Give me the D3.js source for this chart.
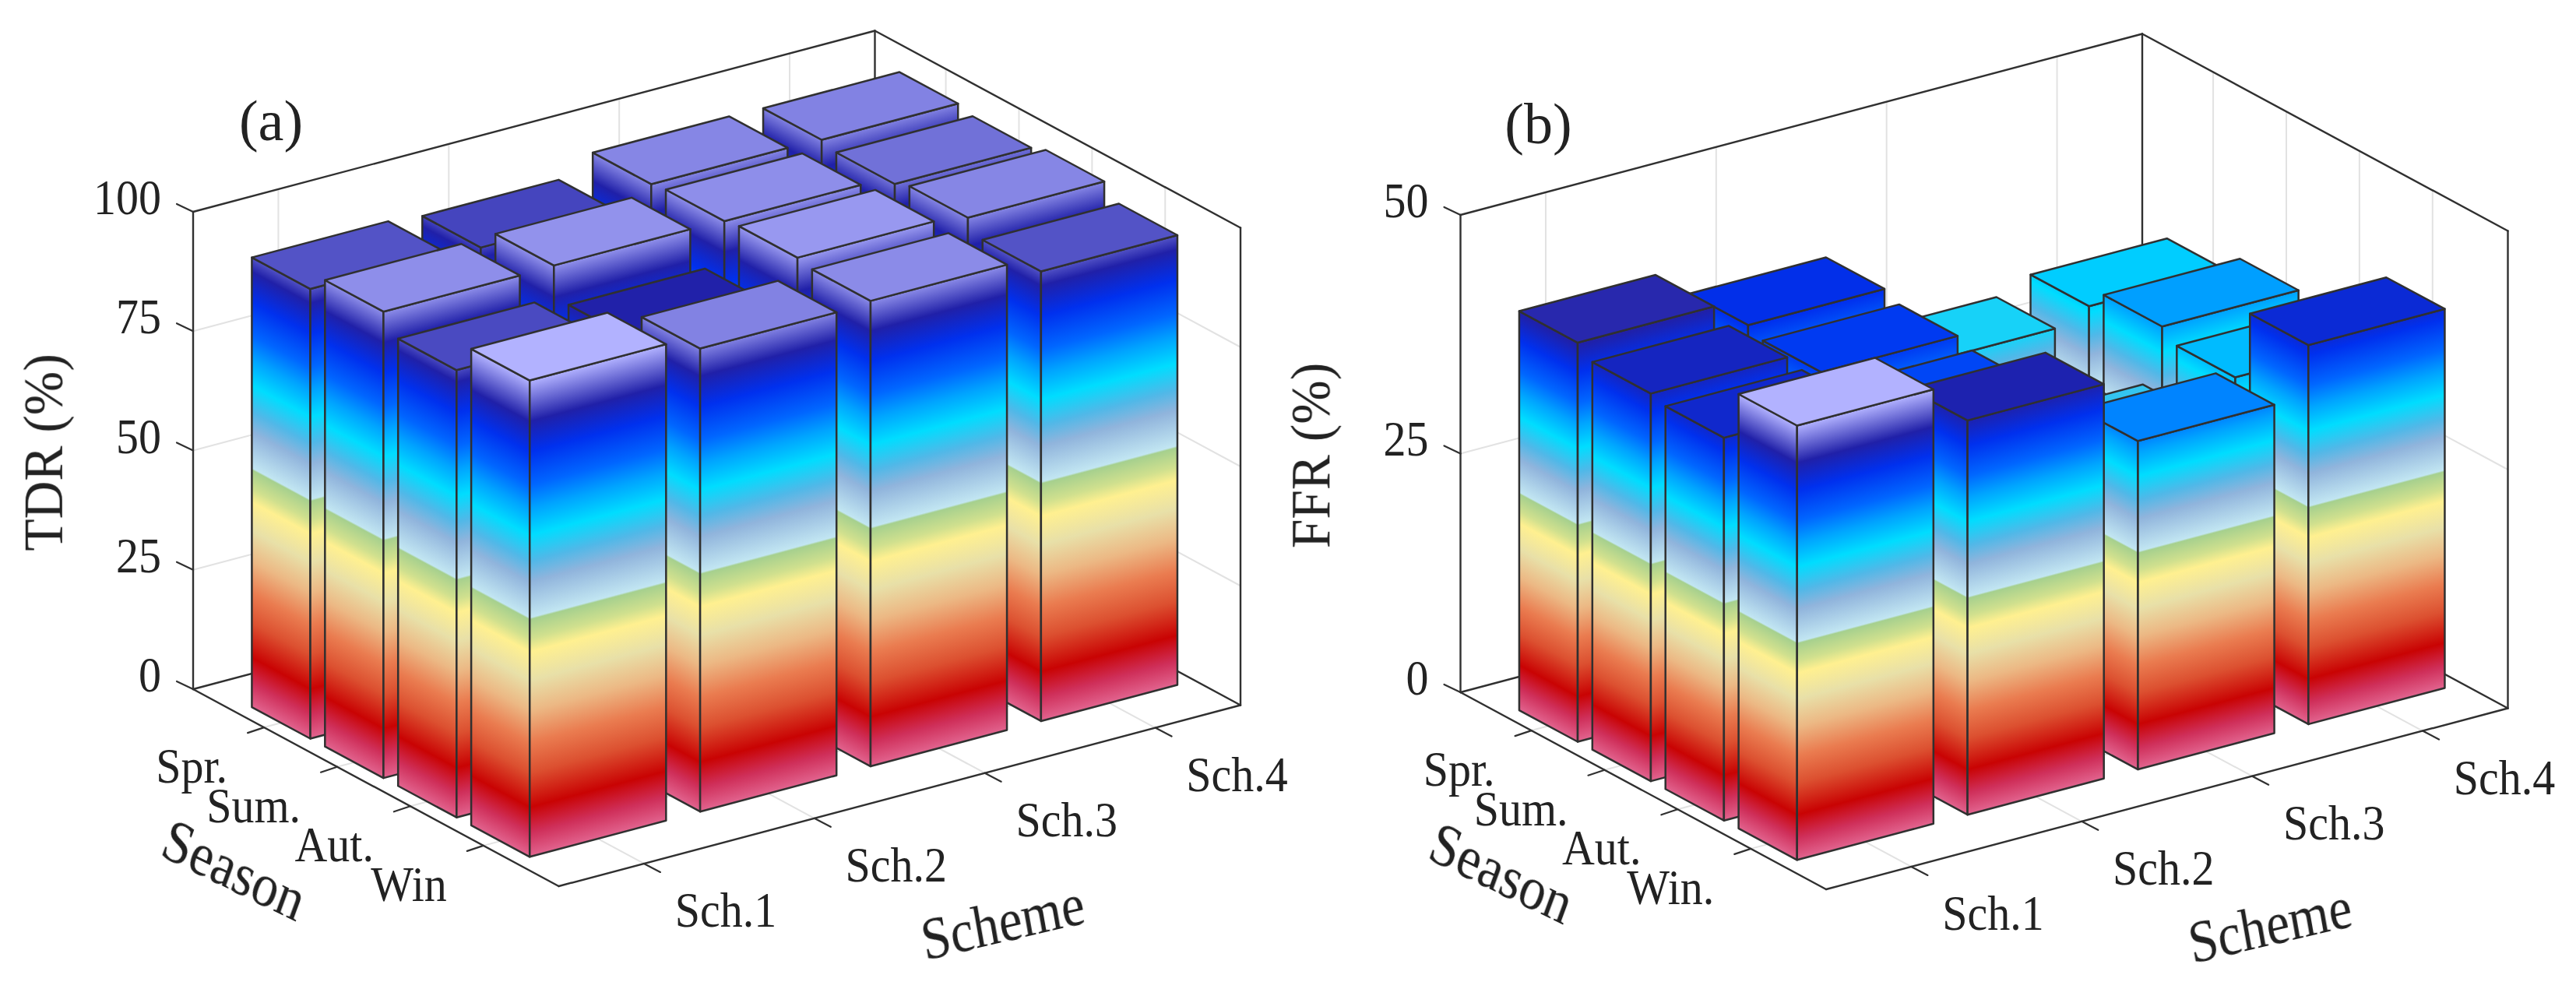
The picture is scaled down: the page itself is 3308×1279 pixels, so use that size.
<!DOCTYPE html>
<html><head><meta charset="utf-8">
<script src="https://cdn.jsdelivr.net/npm/d3@7/dist/d3.min.js"></script>
<style>html,body{margin:0;padding:0;background:#fff}svg{display:block}text{font-family:"Liberation Serif",serif;fill:#222}</style>
</head><body><svg id="c" width="3308" height="1279" xmlns="http://www.w3.org/2000/svg"></svg>
<script>
const seasonsA = ["Spr.", "Sum.", "Aut.", "Win"];
const seasonsB = ["Spr.", "Sum.", "Aut.", "Win."];
const schemes = ["Sch.1", "Sch.2", "Sch.3", "Sch.4"];
const tdrValues = [
  [94.2, 93.4, 97.2, 97.0],
  [97.7, 97.9, 97.7, 96.0],
  [93.7, 91.3, 98.3, 97.2],
  [99.8, 97.0, 97.5, 94.2]
];
const ffrValues = [
  [41.8, 38.9, 30.0, 31.4],
  [40.6, 38.1, 26.0, 33.4],
  [40.1, 37.4, 29.1, 32.2],
  [45.5, 41.3, 34.4, 39.7]
];
const tdrTicks = [0, 25, 50, 75, 100];
const ffrTicks = [0, 25, 50];
const cmapStops = [0, 5, 10.4, 17.6, 24, 30.6, 37, 43, 45.8, 49.8, 50.2, 57.7, 62, 67.5, 73, 78, 85, 91.4, 100];
const cmapColors = ["#e2648f", "#cf2f5a", "#c90303", "#dc5030", "#ea7c50", "#ecb884", "#e8e0a8", "#fff090", "#d0e08e", "#a6d08e",
  "#c2e6f2", "#90b4dc", "#50b8e8", "#00ddff", "#00a4ff", "#0066ff", "#0030ee", "#2020a8", "#b2b2ff"];

const svg = d3.select("#c");
const defs = svg.append("defs");
const blur = defs.append("filter").attr("id", "soft").attr("filterUnits", "userSpaceOnUse")
  .attr("x", 0).attr("y", 0).attr("width", 3308).attr("height", 1279).attr("color-interpolation-filters", "sRGB");
blur.append("feGaussianBlur").attr("stdDeviation", 0.6);
const master = defs.append("linearGradient").attr("id", "cmap");
cmapStops.forEach((s, k) => master.append("stop").attr("offset", s + "%").attr("stop-color", cmapColors[k]));
const cmap = d3.scaleLinear().domain(cmapStops).range(cmapColors).interpolate(d3.interpolateRgb);
let gid = 0;

function panel(o) {
  const g = svg.append("g").attr("filter", "url(#soft)");
  const zTop = o.ticks[o.ticks.length - 1];
  const zMax = d3.max(o.values.flat());
  const sLo = 0.03, sHi = 5.03, cLo = 0.5, cHi = 4.5;
  const sScale = d3.scaleLinear().domain([sLo, sHi]).range([0, 1]);
  const cScale = d3.scaleLinear().domain([cLo, cHi]).range([0, 1]);
  const zScale = d3.scaleLinear().domain([0, zTop]).range([0, 613]);
  const LS = [469.5, 253], LC = [875.5, -232.5];
  const P = (s, c, z) => {
    const a = sScale(s), b = cScale(c);
    return [o.x + a * LS[0] + b * LC[0], o.y + a * LS[1] + b * LC[1] - zScale(z)];
  };
  const line = (a, b, col, w) => g.append("line").attr("x1", a[0]).attr("y1", a[1]).attr("x2", b[0]).attr("y2", b[1])
    .attr("stroke", col).attr("stroke-width", w).attr("stroke-linecap", "round");
  const grid = "#e2e2e2", ink = "#303030";
  const T = (txt, x, y, size, rot, sx, sy, anchor) => g.append("text").attr("text-anchor", anchor || "middle").attr("font-size", size)
    .attr("transform", `translate(${x},${y}) scale(${sx},${sy}) rotate(${rot})`).text(txt);
  // grid
  d3.range(1, 5).forEach(j => {
    line(P(sLo, j, 0), P(sLo, j, zTop), grid, 2);
    line(P(sLo, j, 0), P(sHi, j, 0), grid, 2);
  });
  d3.range(1, 5).forEach(i => {
    line(P(i, cHi, 0), P(i, cHi, zTop), grid, 2);
    line(P(i, cLo, 0), P(i, cHi, 0), grid, 2);
  });
  o.ticks.slice(1, -1).forEach(t => {
    line(P(sLo, cLo, t), P(sLo, cHi, t), grid, 2);
    line(P(sLo, cHi, t), P(sHi, cHi, t), grid, 2);
  });
  // box
  [[[sLo, cLo, 0], [sLo, cHi, 0]], [[sLo, cHi, 0], [sHi, cHi, 0]], [[sLo, cHi, 0], [sLo, cHi, zTop]],
   [[sLo, cLo, zTop], [sLo, cHi, zTop]], [[sLo, cHi, zTop], [sHi, cHi, zTop]], [[sLo, cLo, 0], [sLo, cLo, zTop]],
   [[sHi, cHi, 0], [sHi, cHi, zTop]], [[sLo, cLo, 0], [sHi, cLo, 0]], [[sHi, cLo, 0], [sHi, cHi, 0]]]
    .forEach(e => line(P(...e[0]), P(...e[1]), ink, 2.4));
  // ticks and labels
  o.ticks.forEach(t => {
    const p = P(sLo, cLo, t);
    line(p, [p[0] - 21, p[1] - 10], ink, 2.2);
    T(t, p[0] - 41, p[1] + 3, 58, 0, 1, 1.1, "end");
  });
  o.seasons.forEach((n, k) => {
    const p = P(k + 1, cLo, 0);
    line(p, [p[0] - 21, p[1] + 7], ink, 2.2);
    T(n, p[0] - 47, p[1] + 71, 58, 0, 1, 1.1, "end");
  });
  schemes.forEach((n, k) => {
    const p = P(sHi, k + 1, 0);
    line(p, [p[0] + 21, p[1] + 11], ink, 2.2);
    T(n, p[0] + 105, p[1] + 81, 58, 0, 1, 1.1);
  });
  // bars, back to front
  const w = 0.4;
  const poly = pts => pts.map(p => p.join(",")).join(" ");
  const face = (pA, pB, z, fillZ) => {
    const ex = pB[0] - pA[0], ey = pB[1] - pA[1], L = Math.hypot(ex, ey);
    const nx = -ey / L, ny = ex / L;
    const d = -zScale(fillZ) * ny;
    const id = "f" + (gid++);
    defs.append("linearGradient").attr("id", id).attr("href", "#cmap").attr("gradientUnits", "userSpaceOnUse")
      .attr("x1", pA[0]).attr("y1", pA[1]).attr("x2", pA[0] + nx * d).attr("y2", pA[1] + ny * d);
    const h = zScale(z);
    g.append("polygon").attr("points", poly([pA, pB, [pB[0], pB[1] - h], [pA[0], pA[1] - h]]))
      .attr("fill", `url(#${id})`).attr("stroke", ink).attr("stroke-width", 2.5).attr("stroke-linejoin", "round");
  };
  d3.range(1, 5).forEach(i => {
    d3.range(4, 0, -1).forEach(j => {
      const v = o.values[i - 1][j - 1];
      const s0 = i - w, s1 = i + w, c0 = j - w, c1 = j + w;
      face(P(s0, c0, 0), P(s1, c0, 0), v, zMax);
      face(P(s1, c0, 0), P(s1, c1, 0), v, zMax);
      g.append("polygon").attr("points", poly([P(s0, c0, v), P(s1, c0, v), P(s1, c1, v), P(s0, c1, v)]))
        .attr("fill", cmap(v / zMax * 100)).attr("stroke", ink).attr("stroke-width", 2.5).attr("stroke-linejoin", "round");
    });
  });
  // titles
  T(o.tag, o.x + 100, o.y - 705, 74, 0, 1, 1);
  T(o.zLabel, o.x - 168, o.y - 304, 65, -90, 1.1, 1.04);
  T("Season", o.x + 44, o.y + 256, 68, 23, 1, 1.15);
  T("Scheme", o.x + 1044, o.y + 324, 67, -11.5, 1, 1.15);
}
panel({x: 248, y: 885, values: tdrValues, ticks: tdrTicks, seasons: seasonsA, tag: "(a)", zLabel: "TDR (%)"});
panel({x: 1875.5, y: 889, values: ffrValues, ticks: ffrTicks, seasons: seasonsB, tag: "(b)", zLabel: "FFR (%)"});
</script></body></html>
